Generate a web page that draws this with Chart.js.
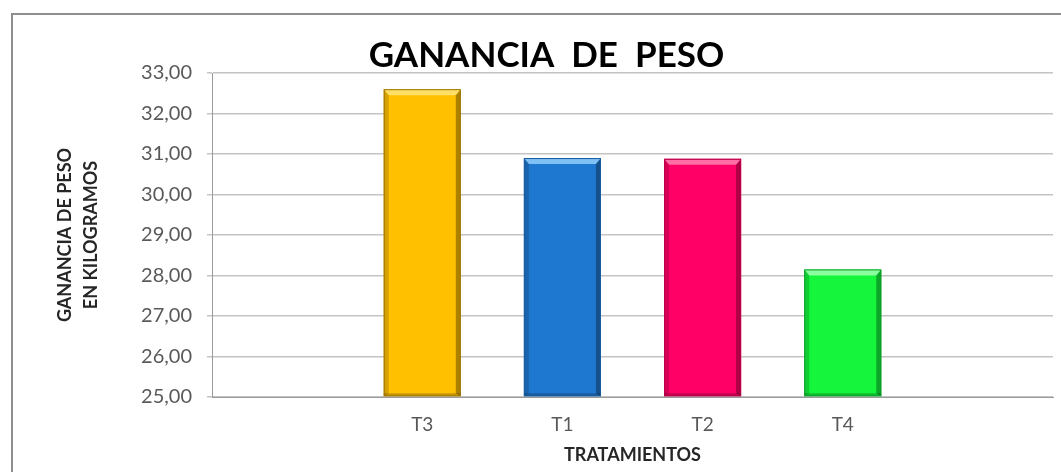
<!DOCTYPE html>
<html lang="es">
<head>
<meta charset="utf-8">
<title>Ganancia de peso</title>
<script src="https://cdn.jsdelivr.net/npm/chart.js@4.4.1/dist/chart.umd.min.js"></script>
<style>
  html, body { margin: 0; padding: 0; background: #fff; }
  #wrap { position: relative; width: 1061px; height: 472px; overflow: hidden; background: #fff; }
  #marco {
    position: absolute; left: 11px; top: 13px; width: 1100px; height: 500px;
    border-left: 2px solid #8e8e8e; border-top: 2px solid #8e8e8e;
    box-sizing: border-box; pointer-events: none;
  }
  canvas { position: absolute; left: 0; top: 0; }
</style>
</head>
<body>
<div id="wrap">
  <canvas id="grafico" width="1061" height="472"></canvas>
  <div id="marco"></div>
</div>
<script>
// Datos: los extremos vacíos dejan un hueco a cada lado, como en la hoja original
const tratamientos = ['', 'T3', 'T1', 'T2', 'T4', ''];
const gananciaKg = [null, 32.6, 30.9, 30.88, 28.15, null];
const ejeYMin = 25;
const ejeYMax = 33;
const ejeYPaso = 1;

// Colores de cada barra: relleno, arista oscura y brillo del bisel
const colorRelleno = [null, '#FFC000', '#1F78CF', '#FF0066', '#14F53C', null];
const colorArista = [null, '#9C7400', '#175C9E', '#B8004A', '#0E9E2C', null];
const colorBrillo = [null, '#FFE066', '#7FC0F5', '#FF6FA5', '#8CFF9E', null];

const fuente = 'Lato, "Open Sans", "DejaVu Sans", sans-serif';

// Bisel tipo Excel: franja clara arriba y bordes laterales sombreados
const biselBarras = {
  id: 'biselBarras',
  afterDatasetsDraw(chart) {
    const ctx = chart.ctx;
    const meta = chart.getDatasetMeta(0);
    meta.data.forEach((bar, i) => {
      const { x, y, base, width } = bar.getProps(['x', 'y', 'base', 'width'], true);
      if (!Number.isFinite(y) || gananciaKg[i] == null) return;
      const l = x - width / 2, r = x + width / 2, t = y, b = base;
      const s = 5;
      ctx.save();
      // brillo superior
      ctx.fillStyle = colorBrillo[i];
      ctx.beginPath();
      ctx.moveTo(l, t); ctx.lineTo(r, t); ctx.lineTo(r - s, t + s + 1); ctx.lineTo(l + s, t + s + 1);
      ctx.closePath(); ctx.fill();
      // lado izquierdo
      ctx.fillStyle = 'rgba(0,0,0,0.16)';
      ctx.beginPath();
      ctx.moveTo(l, t); ctx.lineTo(l + s, t + s + 1); ctx.lineTo(l + s, b - 3); ctx.lineTo(l, b);
      ctx.closePath(); ctx.fill();
      // lado derecho, más oscuro
      ctx.fillStyle = 'rgba(0,0,0,0.32)';
      ctx.beginPath();
      ctx.moveTo(r, t); ctx.lineTo(r - s, t + s + 1); ctx.lineTo(r - s, b - 3); ctx.lineTo(r, b);
      ctx.closePath(); ctx.fill();
      // pie
      ctx.fillStyle = 'rgba(0,0,0,0.22)';
      ctx.fillRect(l, b - 3, width, 3);
      // contorno
      ctx.strokeStyle = colorArista[i];
      ctx.lineWidth = 1;
      ctx.strokeRect(l + 0.5, t + 0.5, width - 1, b - t - 1);
      ctx.restore();
    });
  }
};

new Chart(document.getElementById('grafico'), {
  type: 'bar',
  data: {
    labels: tratamientos,
    datasets: [{
      data: gananciaKg,
      base: ejeYMin,
      backgroundColor: colorRelleno,
      borderWidth: 0,
      barPercentage: 0.55,
      categoryPercentage: 1.0
    }]
  },
  options: {
    responsive: false,
    animation: false,
    layout: { padding: { top: 38, left: 40, right: 8, bottom: 0 } },
    plugins: {
      legend: { display: false },
      tooltip: { enabled: false },
      title: {
        display: true,
        text: 'GANANCIA  DE  PESO',
        color: '#000',
        font: { family: fuente, size: 35, weight: 'bold', lineHeight: 1.0 },
        padding: { top: 0, bottom: 0 }
      }
    },
    scales: {
      x: {
        grid: { display: false, drawTicks: false },
        border: { color: '#9a9a9a', width: 1 },
        ticks: { padding: 16, color: '#595959', font: { family: fuente, size: 19 } },
        title: {
          display: true,
          text: 'TRATAMIENTOS',
          color: '#262626',
          font: { family: fuente, size: 18, weight: 'bold' },
          padding: { top: 0, bottom: 6 }
        },
        afterFit(scale) { scale.height = 75; }
      },
      y: {
        min: ejeYMin,
        max: ejeYMax,
        ticks: {
          stepSize: ejeYPaso,
          padding: 15,
          color: '#595959',
          font: { family: fuente, size: 20 },
          callback: v => v.toFixed(2).replace('.', ',')
        },
        grid: { color: '#c4c4c4', lineWidth: 1.5, tickLength: 5 },
        border: { color: '#9a9a9a', width: 1 },
        title: {
          display: true,
          text: ['GANANCIA DE PESO', 'EN KILOGRAMOS'],
          color: '#262626',
          font: { family: fuente, size: 18, weight: 'bold', lineHeight: 1.45 },
          padding: { top: 12, bottom: 0 }
        },
        afterFit(scale) { scale.width = 172; }
      }
    }
  },
  plugins: [biselBarras]
});
</script>
</body>
</html>
